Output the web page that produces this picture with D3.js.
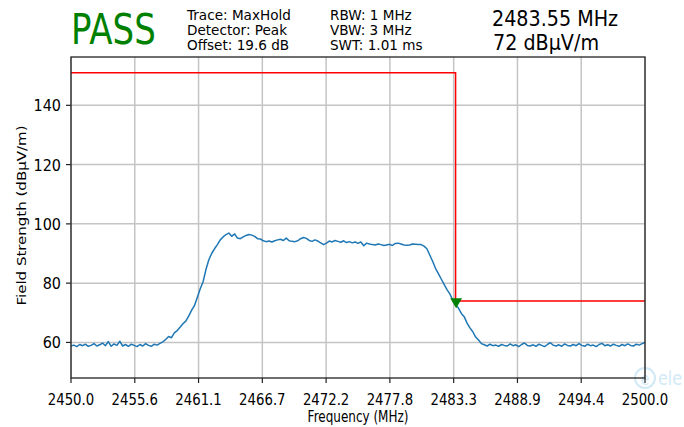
<!DOCTYPE html>
<html>
<head>
<meta charset="utf-8">
<script src="https://d3js.org/d3.v7.min.js"></script>
<style>
  html, body { margin: 0; padding: 0; background: #fff; }
  svg text { font-family: "DejaVu Sans", sans-serif; fill: #000; }
</style>
</head>
<body>
<svg id="chart" width="684" height="427"></svg>
<script>
// sweep settings (MHz)
const sweepStart = 2450;
const sweepStep = 0.25;

// max-hold trace level (dBµV/m), one value per sweep point
const traceLevels = [
  58.8, 59.1, 58.6, 59.3, 58.9, 59.4, 58.7, 59.0, 59.6, 58.8,
  59.2, 59.8, 58.9, 60.3, 58.7, 59.5, 59.0, 60.4, 58.8, 59.3,
  58.7, 59.4, 59.0, 58.6, 59.3, 58.8, 59.6, 59.0, 58.7, 59.4,
  59.1, 59.7, 60.2, 61.0, 62.0, 61.6, 63.2, 64.0, 65.1, 66.3,
  67.2, 68.9, 70.8, 72.4, 75.2, 78.0, 80.4, 84.5, 87.8, 90.0,
  91.6, 93.0, 94.6, 95.6, 96.4, 96.9, 95.8, 96.6, 95.2, 95.0,
  95.6, 96.1, 96.4, 96.2, 95.8, 95.0, 94.9, 94.3, 94.0, 94.2,
  93.9, 94.3, 94.6, 94.8, 94.4, 95.2, 94.3, 94.1, 94.0, 94.3,
  95.0, 95.4, 95.1, 94.4, 94.1, 94.6, 94.2, 93.6, 93.0, 93.5,
  94.2, 93.9, 94.4, 94.1, 93.8, 94.3, 93.7, 94.0, 93.6, 93.9,
  93.4, 93.9, 92.6, 93.5, 93.2, 93.0, 92.9, 93.2, 93.0, 92.7,
  92.9, 93.1, 92.7, 93.4, 93.5, 93.2, 92.9, 92.8, 92.9, 93.2,
  93.1, 93.0, 93.0, 92.5, 91.6, 89.5, 87.4, 85.0, 83.2, 81.4,
  79.6, 77.8, 76.4, 74.3, 72.6, 71.6, 69.8, 68.7, 66.5, 64.9,
  63.6, 61.8, 60.8, 59.6, 59.2, 58.8, 59.4, 58.9, 59.1, 58.7,
  59.3, 59.0, 58.8, 59.5, 58.9, 59.2, 58.6, 59.3, 59.8, 59.0,
  58.8, 59.2, 58.7, 59.4, 59.0, 58.6, 59.3, 59.9, 59.1, 58.8,
  59.2, 58.7, 59.5, 59.0, 58.8, 59.3, 58.9, 59.6, 59.0, 58.7,
  59.4, 58.9, 59.1, 58.6, 59.3, 59.7, 58.9, 59.2, 58.8, 59.4,
  59.0, 58.7, 59.3, 58.9, 59.5, 59.0, 58.8, 59.4, 59.1, 59.6,
  60.0
];

// limit line (step): [frequency, level]
const limitFreqs = [2450, 2483.5, 2483.5, 2500];
const limitLevels = [151, 151, 74, 74];

// marker
const markerFreq = 2483.55;
const markerLevel = 73.8;

// axis ticks
const xTickLabels = ["2450.0", "2455.6", "2461.1", "2466.7", "2472.2", "2477.8", "2483.3", "2488.9", "2494.4", "2500.0"];
const yTicks = [60, 80, 100, 120, 140];

// header texts
const verdict = "PASS";
const settingsCol1 = ["Trace: MaxHold", "Detector: Peak", "Offset: 19.6 dB"];
const settingsCol2 = ["RBW: 1 MHz", "VBW: 3 MHz", "SWT: 1.01 ms"];
const markerReadout = ["2483.55 MHz", "72 dBµV/m"];

const svg = d3.select("#chart");
const plot = { left: 71, right: 645, top: 57, bottom: 378 };

const x = d3.scaleLinear().domain([2450, 2500]).range([plot.left, plot.right]);
const y = d3.scaleLinear().domain([48, 156.3]).range([plot.bottom, plot.top]);

// squeezed text helper (the reference text is narrow)
function label(g, txt, px, py, size, anchor, color, sx) {
  return g.append("text")
    .attr("transform", `translate(${px},${py}) scale(${sx || 0.8},1)`)
    .attr("text-anchor", anchor || "start")
    .style("font-size", size + "px")
    .style("fill", color || "#000")
    .text(txt);
}

// watermark, bottom right
const wm = svg.append("g").attr("opacity", 0.35);
wm.append("circle").attr("cx", 645).attr("cy", 378).attr("r", 10)
  .attr("fill", "none").attr("stroke", "#7fc4e6").attr("stroke-width", 2);
label(wm, "e", 645, 385, 18, "middle", "#7fc4e6");
label(wm, "ele", 658, 385, 20, "start", "#7fc4e6");

// grid
const xGridVals = d3.range(xTickLabels.length).map(i => 2450 + i * 50 / (xTickLabels.length - 1));

svg.append("g")
  .selectAll("line")
  .data(xGridVals)
  .join("line")
  .attr("x1", d => x(d)).attr("x2", d => x(d))
  .attr("y1", plot.top).attr("y2", plot.bottom)
  .attr("stroke", "#c4c4c4").attr("stroke-width", 1.5);

svg.append("g")
  .selectAll("line")
  .data(yTicks)
  .join("line")
  .attr("x1", plot.left).attr("x2", plot.right)
  .attr("y1", d => y(d)).attr("y2", d => y(d))
  .attr("stroke", "#c4c4c4").attr("stroke-width", 1.5);

// trace
const tracePoints = traceLevels.map((v, i) => [sweepStart + i * sweepStep, v]);
const line = d3.line().x(d => x(d[0])).y(d => y(d[1]));

svg.append("path")
  .datum(tracePoints)
  .attr("d", line)
  .attr("fill", "none")
  .attr("stroke", "#1f77b4")
  .attr("stroke-width", 1.5)
  .attr("stroke-linejoin", "round");

// limit line
svg.append("path")
  .datum(limitFreqs.map((f, i) => [f, limitLevels[i]]))
  .attr("d", line)
  .attr("fill", "none")
  .attr("stroke", "#ff0000")
  .attr("stroke-width", 1.5);

// marker (downward triangle)
svg.append("path")
  .attr("transform", `translate(${x(markerFreq)},${y(markerLevel)}) rotate(180)`)
  .attr("d", d3.symbol(d3.symbolTriangle, 60)())
  .attr("fill", "#008000");

// frame
svg.append("rect")
  .attr("x", plot.left).attr("y", plot.top)
  .attr("width", plot.right - plot.left).attr("height", plot.bottom - plot.top)
  .attr("fill", "none").attr("stroke", "#222").attr("stroke-width", 1.3);

// axes ticks
const ticks = svg.append("g").attr("stroke", "#222").attr("stroke-width", 1.2);
xGridVals.forEach(v => {
  ticks.append("line").attr("x1", x(v)).attr("x2", x(v)).attr("y1", plot.bottom).attr("y2", plot.bottom + 5);
});
yTicks.forEach(v => {
  ticks.append("line").attr("x1", plot.left - 5).attr("x2", plot.left).attr("y1", y(v)).attr("y2", y(v));
});

const labels = svg.append("g");
xGridVals.forEach((v, i) => label(labels, xTickLabels[i], x(v), 405, 16, "middle", null, 0.83));
yTicks.forEach(v => label(labels, String(v), 61, y(v) + 6, 16, "end", null, 0.9));

label(labels, "Frequency (MHz)", (plot.left + plot.right) / 2, 422, 15, "middle", null, 0.8);
labels.append("text")
  .attr("transform", `translate(22,${(plot.top + plot.bottom) / 2 - 2}) scale(0.8,1) rotate(-90)`)
  .attr("text-anchor", "middle")
  .attr("dy", "0.35em")
  .style("font-size", "15px")
  .text("Field Strength (dBµV/m)");

// header
const head = svg.append("g");
label(head, verdict, 71, 44, 42, "start", "#008000", 0.81);
settingsCol1.forEach((t, i) => label(head, t, 187, 20 + i * 15, 14, "start", null, 0.97));
settingsCol2.forEach((t, i) => label(head, t, 330, 20 + i * 15, 14, "start", null, 0.97));
label(head, markerReadout[0], 492, 26, 22, "start", null, 0.87);
label(head, markerReadout[1], 493, 50, 22, "start", null, 0.87);
</script>
</body>
</html>
